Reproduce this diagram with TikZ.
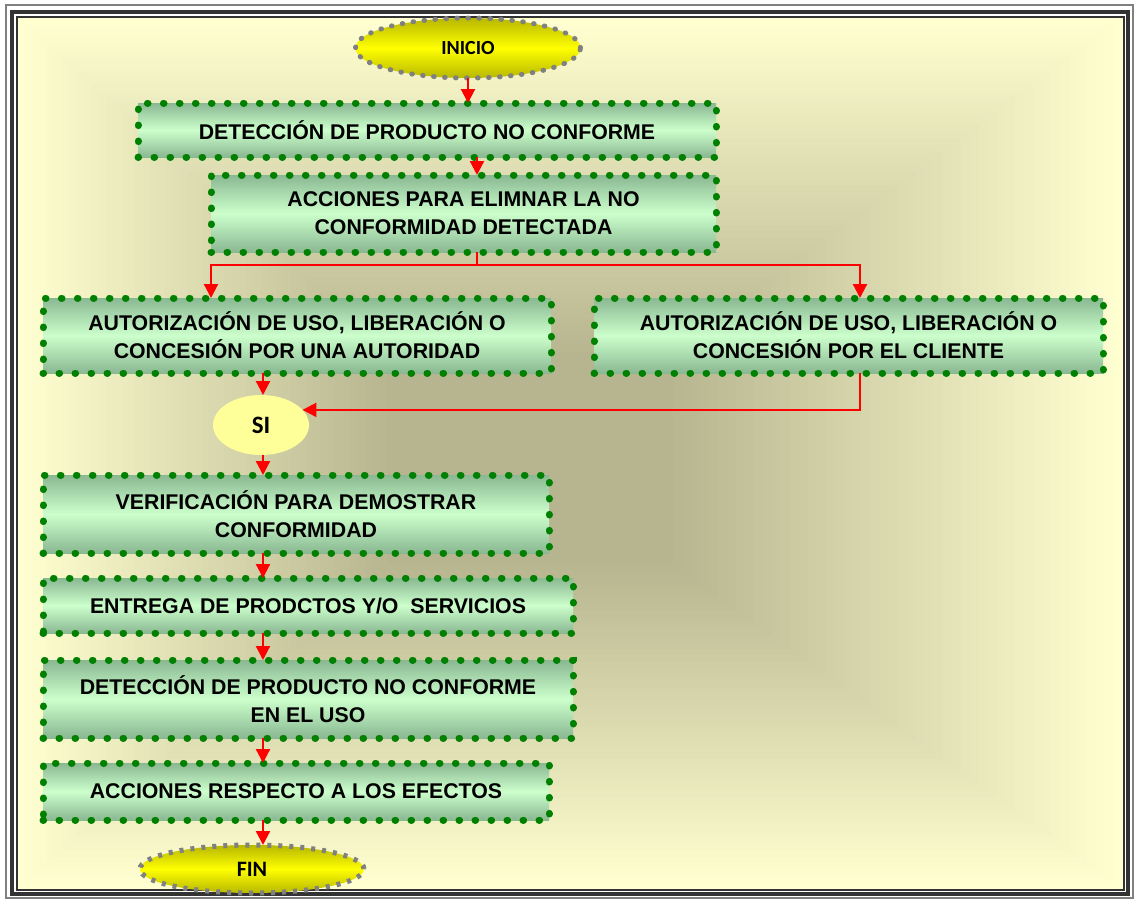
\documentclass[tikz,border=0pt]{standalone}
\usepackage{fontspec}
\setmainfont{Liberation Sans}
\newfontfamily\calibri{Carlito}
\usetikzlibrary{arrows.meta}
\usetikzlibrary{positioning}
\usetikzlibrary{shapes.geometric}

\definecolor{fondoclaro}{RGB}{255,255,208}
\definecolor{fondooscuro}{RGB}{183,181,143}
\definecolor{verdepunto}{RGB}{0,128,0}
\definecolor{verdeborde}{RGB}{138,184,146}
\definecolor{verdeclaro}{RGB}{204,255,204}
\definecolor{grisborde}{RGB}{128,128,128}
\definecolor{amarillosi}{RGB}{255,255,153}

\tikzset{
  paso/.style={rectangle, inner sep=0pt, outer sep=0pt, align=center,
    top color=verdeborde, bottom color=verdeborde, middle color=verdeclaro,
    draw=verdepunto, line width=7pt, line cap=round, dash pattern=on 0.6pt off 15.4pt,
    font=\fontsize{21.3}{28}\selectfont\bfseries},
  terminal/.style={ellipse, inner sep=0pt, outer sep=0pt,
    top color=yellow!72!black, bottom color=yellow!72!black, middle color=yellow,
    draw=grisborde, line width=5pt,
    font=\calibri\fontsize{20}{24}\selectfont\bfseries},
  nodosi/.style={ellipse, inner sep=0pt, outer sep=0pt, fill=amarillosi,
    font=\calibri\fontsize{25}{28}\selectfont\bfseries},
  flecha/.style={draw=red, line width=2.2pt, -{Triangle[width=14pt,length=14pt]}},
  linea/.style={draw=red, line width=2.2pt},
}

\begin{document}
\begin{tikzpicture}[x=1pt,y=-1pt]
% fondo y marco
\fill[white] (0,0) rectangle (1136,900);
\fill[fondoclaro] (17,17) rectangle (1124,890);
\foreach \i in {1,...,50}{
  \pgfmathsetmacro\t{\i/50}
  \pgfmathsetmacro\a{553-410*\t}
  \pgfmathsetmacro\b{436-330*\t}
  \pgfmathsetmacro\p{100*\t}
  \fill[fondooscuro!\p!fondoclaro] (570-40*\t-\a,453+5*\t-\b) rectangle (570-40*\t+\a,453+5*\t+\b);
}
\draw[grisborde, line width=1.5pt] (6,5) rectangle (1133,898);
\draw[black!80, line width=4pt] (12,12) rectangle (1128,894);
\draw[black!80, line width=1.2pt] (17,17) rectangle (1124,890);

% nodos
\node[terminal, minimum width=225pt, minimum height=60pt, line cap=round, dash pattern=on 0.6pt off 10.4pt] (inicio) at (468,48) {INICIO};
\node[paso, minimum width=578pt, minimum height=54pt, below=25pt of inicio, xshift=-41pt] (deteccion) {DETECCIÓN DE PRODUCTO NO CONFORME};
\node[paso, minimum width=505pt, minimum height=77pt, below=18pt of deteccion.south east, anchor=north east] (acciones) {ACCIONES PARA ELIMNAR LA NO\\CONFORMIDAD DETECTADA};
\node[paso, minimum width=508pt, minimum height=75pt, anchor=north west] (autoridad) at (43,298) {AUTORIZACIÓN DE USO, LIBERACIÓN O\\CONCESIÓN POR UNA AUTORIDAD};
\node[paso, minimum width=509pt, minimum height=75pt, right=43pt of autoridad] (cliente) {AUTORIZACIÓN DE USO, LIBERACIÓN O\\CONCESIÓN POR EL CLIENTE};
\node[nodosi, minimum width=96pt, minimum height=60pt] (si) at (261,425) {SI};
\node[paso, minimum width=506pt, minimum height=78pt, anchor=north west] (verificacion) at (43,475) {VERIFICACIÓN PARA DEMOSTRAR\\CONFORMIDAD};
\node[paso, minimum width=530pt, minimum height=55pt, below=25pt of verificacion.south west, anchor=north west] (entrega) {ENTREGA DE PRODCTOS Y/O~ SERVICIOS};
\node[paso, minimum width=530pt, minimum height=78pt, below=27pt of entrega.south west, anchor=north west] (uso) {DETECCIÓN DE PRODUCTO NO CONFORME\\EN EL USO};
\node[paso, minimum width=506pt, minimum height=57pt, below=25pt of uso.south west, anchor=north west] (efectos) {ACCIONES RESPECTO A LOS EFECTOS};
\node[terminal, minimum width=224pt, minimum height=48pt, dash pattern=on 4pt off 7pt, font=\calibri\fontsize{22}{24}\selectfont\bfseries] (fin) at (252,869) {FIN};

% conectores
\coordinate (eje) at (263,0);
\coordinate (ramal) at (477,265);
\coordinate (derecha) at (860,265);
\draw[flecha] (inicio.south) -- (inicio.south |- deteccion.north);
\draw[flecha] (deteccion.south -| ramal) -- (acciones.north -| ramal);
\draw[linea] (acciones.south -| ramal) -- (ramal);
\draw[flecha] (ramal) -| (autoridad.north -| acciones.west);
\draw[flecha] (ramal) -- (derecha) -- (cliente.north -| derecha);
\draw[flecha] (cliente.south -| derecha) |- (si.20);
\draw[flecha] (autoridad.south -| eje) -- (si.north -| eje);
\draw[flecha] (si.south -| eje) -- (verificacion.north -| eje);
\foreach \de/\hacia in {verificacion/entrega, entrega/uso, uso/efectos, efectos/fin}
  \draw[flecha] (\de.south -| eje) -- (\hacia.north -| eje);
\end{tikzpicture}
\end{document}
